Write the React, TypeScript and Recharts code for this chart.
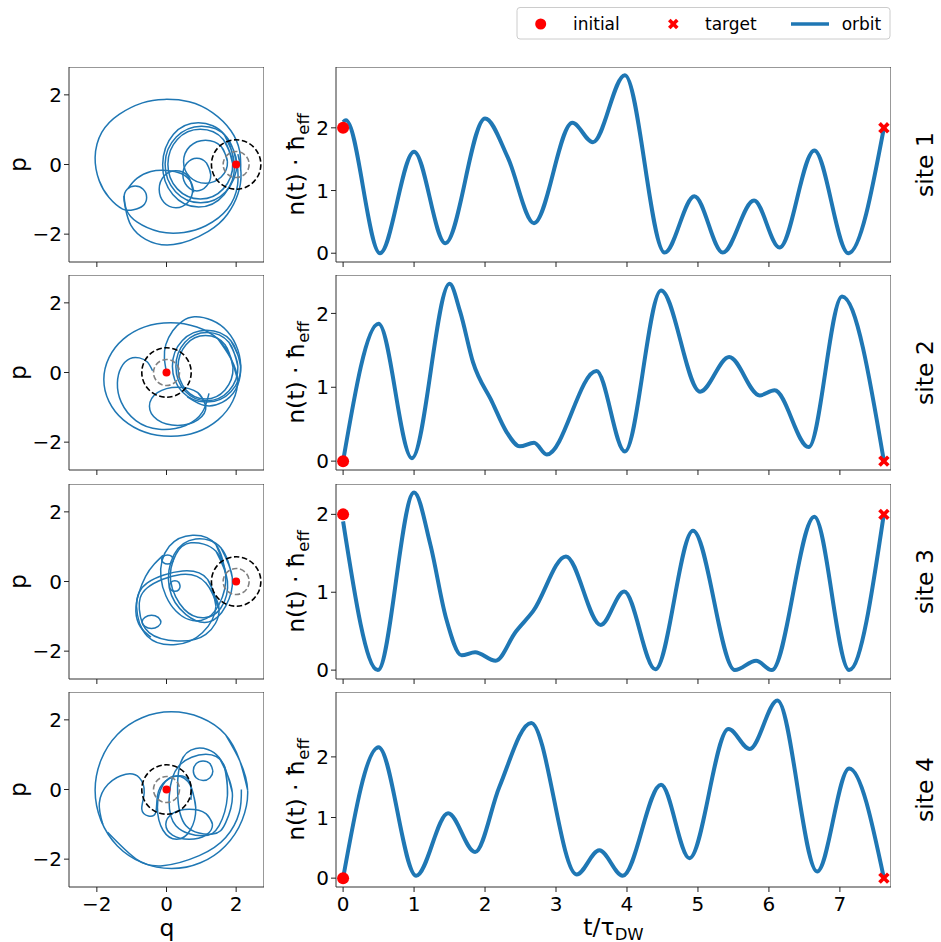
import React from 'react';
import { LineChart, Line, XAxis, YAxis, ReferenceDot, ReferenceArea } from 'recharts';

const BLUE = '#1f77b4';
const RED = '#ff0000';
const FONT = '"DejaVu Sans", Verdana, sans-serif';

const SITES = ['site 1', 'site 2', 'site 3', 'site 4'];
const ROW_TOPS = [67, 275, 484, 692];
const START_Q = [2, 0, 2, 0];
const INITIAL_N = [2, 0, 2, 0];
const TARGET_N = [2, 0, 2, 0];
const T_END = 7.62;
const T_TICKS = [0, 1, 2, 3, 4, 5, 6, 7];
const QP_TICKS = [-2, 0, 2];
const N_TICKS = [0, 1, 2];
const N_DOMAINS = [[-0.14, 2.97], [-0.12, 2.52], [-0.114, 2.39], [-0.146, 3.07]];

// n(t)*hbar, [t, n]
const site1N = [
    [0, 2.09], [0.04, 2.12], [0.52, 0], [1.0, 1.62], [1.44, 0.16], [2.0, 2.15], [2.32, 1.53],
    [2.69, 0.48], [3.23, 2.08], [3.52, 1.77], [3.97, 2.84], [4.53, 0.01], [4.95, 0.91],
    [5.35, 0.01], [5.79, 0.84], [6.15, 0.09], [6.64, 1.64], [7.12, 0], [7.62, 2.0],
];
const site2N = [
    [0, 0], [0.5, 1.86], [0.97, 0.04], [1.5, 2.4], [1.65, 2.02], [1.83, 1.34], [2.1, 0.8],
    [2.3, 0.4], [2.49, 0.2], [2.69, 0.25], [2.87, 0.09], [3.57, 1.22], [3.97, 0.13],
    [4.48, 2.31], [5.03, 0.94], [5.44, 1.41], [5.87, 0.89], [6.08, 0.96], [6.56, 0.19],
    [7.03, 2.23], [7.62, 0],
];
const site3N = [
    [0, 1.91], [0.49, 0], [1.0, 2.28], [1.23, 1.61], [1.45, 0.67], [1.67, 0.19], [1.86, 0.23],
    [2.15, 0.12], [2.43, 0.49], [2.68, 0.76], [3.14, 1.46], [3.63, 0.58], [3.96, 1.01],
    [4.4, 0.01], [4.93, 1.79], [5.52, 0], [5.82, 0.12], [6.04, 0], [6.64, 1.97], [7.13, 0],
    [7.62, 2.01],
];
const site4N = [
    [0, 0], [0.5, 2.16], [1.03, 0.04], [1.48, 1.07], [1.86, 0.43], [2.2, 1.5], [2.65, 2.56],
    [3.29, 0.06], [3.61, 0.46], [3.94, 0.04], [4.48, 1.54], [4.88, 0.33], [5.43, 2.46],
    [5.73, 2.13], [6.12, 2.93], [6.68, 0.11], [7.13, 1.81], [7.62, 0],
];

// phase space orbits, [q, p]: closed loops and open arcs
const site1Loops = [
    [[1.95, 0], [1.66, 0.86], [0.92, 1.2], [0.2, 0.87], [-0.11, 0], [0.18, -0.86], [0.92, -1.22], [1.66, -0.86]],
    [[2.02, 0.02], [1.72, 0.8], [1.0, 1.1], [0.28, 0.79], [-0.04, 0.02], [0.26, -0.78], [0.98, -1.1], [1.7, -0.78]],
    [[1.9, 0.02], [1.63, 0.72], [0.97, 1.01], [0.31, 0.72], [0.04, 0.01], [0.31, -0.7], [0.97, -0.99], [1.63, -0.7]],
    [[1.75, 0.08], [1.57, 0.52], [1.12, 0.7], [0.67, 0.52], [0.49, 0.08], [0.67, -0.36], [1.12, -0.54], [1.57, -0.36]],
    [[1.27, -0.29], [1.15, 0.04], [0.87, 0.18], [0.59, 0.04], [0.47, -0.29], [0.59, -0.62], [0.87, -0.76], [1.15, -0.62]],
    [[0.75, -0.71], [0.61, -0.33], [0.27, -0.18], [-0.07, -0.33], [-0.21, -0.71], [-0.07, -1.09], [0.27, -1.24], [0.61, -1.09]],
];
const site1Arcs = [
    [[2.13, -0.18], [2.1, 0.39], [1.85, 0.97], [1.32, 1.49], [0.65, 1.8], [-0.07, 1.87], [-0.69, 1.77],
     [-1.36, 1.44], [-1.86, 0.92], [-2.05, 0.2], [-1.93, -0.47], [-1.65, -0.95], [-1.26, -1.28],
     [-0.95, -1.3], [-0.68, -1.19], [-0.57, -0.95], [-0.67, -0.71], [-0.9, -0.62], [-1.13, -0.71],
     [-1.22, -0.95], [-1.17, -1.3], [-1.02, -1.75], [-0.6, -2.15], [0.2, -2.3], [1.2, -1.92],
     [1.75, -1.43], [2.05, -0.85], [2.14, -0.25], [2.05, 0.3]],
    [[-1.22, -0.9], [-1.15, -1.3], [-0.85, -1.65], [-0.2, -1.93], [0.5, -1.95], [1.13, -1.76],
     [1.75, -1.28], [2.04, -0.6], [2.03, 0.05]],
    [[-1.1, -0.68], [-0.85, -0.4], [-0.45, -0.2], [0.0, -0.17], [0.42, -0.26], [0.7, -0.5], [0.78, -0.8]],
];

const site2Loops = [
    [[2.04, -0.2], [1.48, 0.96], [0.12, 1.43], [-1.24, 0.96], [-1.8, -0.2], [-1.24, -1.36], [0.12, -1.83], [1.48, -1.36]],
    [[2.13, 0.18], [1.85, 0.91], [1.15, 1.21], [0.45, 0.91], [0.17, 0.18], [0.45, -0.55], [1.15, -0.85], [1.85, -0.55]],
    [[2.05, 0.17], [1.79, 0.87], [1.16, 1.15], [0.53, 0.87], [0.27, 0.17], [0.53, -0.53], [1.16, -0.81], [1.79, -0.53]],
    [[1.91, 0.15], [1.68, 0.8], [1.12, 1.06], [0.56, 0.8], [0.33, 0.15], [0.56, -0.5], [1.12, -0.76], [1.68, -0.5]],
    [[1.13, -0.97], [0.9, -0.58], [0.32, -0.42], [-0.26, -0.58], [-0.49, -0.97], [-0.26, -1.36], [0.32, -1.52], [0.9, -1.36]],
];
const site2Arcs = [
    [[0, 0], [-0.06, 0.4], [-0.02, 0.8], [0.18, 1.2], [0.45, 1.47], [0.8, 1.6], [1.3, 1.5], [1.75, 1.18],
     [2.05, 0.65], [2.13, 0.05], [1.98, -0.5], [1.6, -0.86], [1.1, -0.95], [0.6, -0.7]],
    [[-0.4, 0.05], [-0.55, 0.3], [-0.78, 0.42], [-1.05, 0.4], [-1.3, 0.15], [-1.41, -0.3], [-1.3, -0.85],
     [-0.88, -1.38], [-0.21, -1.63], [0.55, -1.52], [1.03, -1.14], [1.22, -0.6]],
];

const site3Loops = [
    [[1.7, 0.2], [1.42, 1.06], [0.75, 1.33], [0.08, 1.01], [-0.16, 0.11], [0.27, -0.85], [0.99, -1.12], [1.51, -0.66]],
    [[1.89, 0.11], [1.56, 0.97], [0.84, 1.22], [0.22, 0.78], [0.08, -0.18], [0.56, -0.95], [1.22, -1.16], [1.7, -0.71]],
    [[1.75, 0.01], [1.42, 0.87], [0.7, 1.11], [0.27, 0.78], [0.12, 0.01], [0.51, -0.8], [1.08, -1.04], [1.56, -0.76]],
    [[1.42, -0.71], [1.18, 0.06], [0.46, 0.3], [-0.55, -0.04], [-0.86, -0.71], [-0.55, -1.57], [0.27, -1.81], [1.03, -1.47]],
    [[1.51, -0.8], [1.13, -0.04], [0.41, 0.2], [-0.55, -0.18], [-0.78, -0.8], [-0.5, -1.47], [0.32, -1.71], [1.13, -1.52]],
    [[0.2, 0.63], [0.15, 0.72], [0.03, 0.76], [-0.09, 0.72], [-0.14, 0.63], [-0.09, 0.54], [0.03, 0.5], [0.15, 0.54]],
    [[0.39, -0.13], [0.35, -0.02], [0.24, 0.02], [0.13, -0.02], [0.09, -0.13], [0.13, -0.24], [0.24, -0.28], [0.35, -0.24]],
    [[-0.16, -1.16], [-0.24, -1.03], [-0.43, -0.97], [-0.62, -1.03], [-0.7, -1.16], [-0.62, -1.29], [-0.43, -1.35], [-0.24, -1.29]],
];
const site3Arcs = [
    [[-0.1, 0.75], [-0.35, 0.5], [-0.6, 0.15], [-0.8, -0.35], [-0.88, -0.85], [-0.75, -1.3], [-0.45, -1.6]],
];

const site4Loops = [
    [[2.33, -0.02], [1.69, 1.58], [0.14, 2.23], [-1.41, 1.58], [-2.05, -0.02], [-1.41, -1.62], [0.14, -2.27], [1.69, -1.62]],
    [[1.89, -0.09], [1.51, 0.92], [0.84, 1.18], [0.41, 0.78], [0.32, -0.09], [0.56, -1.04], [1.32, -1.28], [1.7, -0.95]],
    [[1.75, -0.18], [1.66, 0.68], [1.13, 1.01], [0.36, 0.68], [0.08, -0.18], [0.27, -1.04], [1.03, -1.33], [1.51, -1.04]],
    [[1.33, 0.54], [1.25, 0.74], [1.05, 0.82], [0.85, 0.74], [0.77, 0.54], [0.85, 0.34], [1.05, 0.26], [1.25, 0.34]],
    [[1.32, -1.0], [1.13, -0.69], [0.65, -0.57], [0.17, -0.69], [-0.02, -1.0], [0.17, -1.31], [0.65, -1.43], [1.13, -1.31]],
    [[0.84, -0.52], [0.68, 0.13], [0.29, 0.39], [-0.1, 0.13], [-0.26, -0.52], [-0.1, -1.17], [0.29, -1.43], [0.68, -1.17]],
];
const site4Arcs = [
    [[-1.69, -1.23], [-0.88, -1.99], [-0.11, -2.19], [0.94, -1.9], [1.7, -1.38], [2.09, -0.66], [2.15, 0.0]],
    [[-1.83, -1.0], [-1.93, -0.4], [-1.68, 0.15], [-1.17, 0.44], [-0.78, 0.34], [-0.64, -0.09], [-0.71, -0.56],
     [-0.52, -0.76], [-0.31, -0.66], [-0.26, -0.18], [-0.02, 0.25], [0.46, 0.39], [0.7, 0.11], [0.7, -0.3]],
];

const N_SERIES = [site1N, site2N, site3N, site4N];
const LOOPS = [site1Loops, site2Loops, site3Loops, site4Loops];
const ARCS = [site1Arcs, site2Arcs, site3Arcs, site4Arcs];

const QP_DOMAIN = [-2.8, 2.8];
const T_DOMAIN = [-0.1, 7.72];

const PW = 195, PH = 195, TW = 555, YW_L = 50, YW_R = 40, XH = 34;

const toQP = (pts: number[][]) => pts.map(([q, p]) => ({ q, p }));
const toTN = (pts: number[][]) => pts.map(([t, n]) => ({ t, n }));
const closeLoop = (pts: number[][]) => [...pts, pts[0], pts[1]];
const minus = (v: number) => String(v).replace('-', '\u2212');
const tickStyle = { fill: '#000', fontSize: 20, fontFamily: FONT };
const LABEL = 23.5;

const XMark = ({ cx, cy, s = 4.4, w = 3.7 }: any) => (
    <g>
        <line x1={cx - s} y1={cy - s} x2={cx + s} y2={cy + s} stroke={RED} strokeWidth={w} />
        <line x1={cx - s} y1={cy + s} x2={cx + s} y2={cy - s} stroke={RED} strokeWidth={w} />
    </g>
);

function PhasePanel({ row }: { row: number }) {
    const paths = [...LOOPS[row].map(closeLoop), ...ARCS[row]];
    const last = row === 3;
    return (
        <div style={{ position: 'absolute', left: 69 - YW_L, top: ROW_TOPS[row] }}>
            <LineChart width={YW_L + PW} height={PH + XH} margin={{ top: 0, right: 0, bottom: 0, left: 0 }}>
                <XAxis type="number" dataKey="q" domain={QP_DOMAIN} ticks={QP_TICKS} interval={0}
                    allowDataOverflow height={XH} axisLine={false} tickLine={{ stroke: '#222' }} tickSize={5}
                    tickMargin={5} tick={tickStyle} tickFormatter={last ? minus : () => ''} />
                <YAxis type="number" dataKey="p" domain={QP_DOMAIN} ticks={QP_TICKS} interval={0}
                    allowDataOverflow width={YW_L} axisLine={false} tickLine={{ stroke: '#222' }} tickSize={5}
                    tick={tickStyle} tickFormatter={minus} />
                {paths.map((pts, i) => (
                    <Line key={i} data={toQP(pts)} dataKey="p" type="natural" stroke={BLUE} strokeWidth={1.5}
                        dot={false} activeDot={false} isAnimationActive={false} />
                ))}
                <ReferenceArea x1={QP_DOMAIN[0]} x2={QP_DOMAIN[1]} y1={QP_DOMAIN[0]} y2={QP_DOMAIN[1]}
                    fill="none" stroke="#333" strokeWidth={1} />
                <ReferenceDot x={START_Q[row]} y={0} r={24.7} fill="none" stroke="#000" strokeWidth={1.6}
                    strokeDasharray="5.5 2.6" />
                <ReferenceDot x={START_Q[row]} y={0} r={13} fill="none" stroke="#808080" strokeWidth={1.6}
                    strokeDasharray="5.5 2.6" />
                <ReferenceDot x={START_Q[row]} y={0} r={4} fill={RED} stroke="none" />
            </LineChart>
        </div>
    );
}

function TimePanel({ row }: { row: number }) {
    const last = row === 3;
    const dom = N_DOMAINS[row];
    return (
        <div style={{ position: 'absolute', left: 336 - YW_R, top: ROW_TOPS[row] }}>
            <LineChart width={YW_R + TW} height={PH + XH} margin={{ top: 0, right: 0, bottom: 0, left: 0 }}>
                <XAxis type="number" dataKey="t" domain={T_DOMAIN} ticks={T_TICKS} interval={0}
                    allowDataOverflow height={XH} axisLine={false} tickLine={{ stroke: '#222' }} tickSize={5}
                    tickMargin={5} tick={tickStyle} tickFormatter={last ? minus : () => ''} />
                <YAxis type="number" domain={dom} ticks={N_TICKS} interval={0} allowDataOverflow
                    width={YW_R} axisLine={false} tickLine={{ stroke: '#222' }} tickSize={5} tick={tickStyle} />
                <Line data={toTN(N_SERIES[row])} dataKey="n" type="monotone" stroke={BLUE} strokeWidth={4}
                    dot={false} activeDot={false} isAnimationActive={false} />
                <ReferenceArea x1={T_DOMAIN[0]} x2={T_DOMAIN[1]} y1={dom[0]} y2={dom[1]}
                    fill="none" stroke="#333" strokeWidth={1} />
                <ReferenceDot x={0} y={INITIAL_N[row]} r={6} fill={RED} stroke="none" />
                <ReferenceDot x={T_END} y={TARGET_N[row]} r={6}
                    shape={(props: any) => <XMark cx={props.cx} cy={props.cy} />} />
            </LineChart>
        </div>
    );
}

export default function App() {
    const centers = ROW_TOPS.map((t) => t + PH / 2);
    return (
        <div style={{ position: 'absolute', left: 0, top: 0, width: 941, height: 942, background: '#fff', fontFamily: FONT }}>
            {ROW_TOPS.map((_, r) => <PhasePanel key={'p' + r} row={r} />)}
            {ROW_TOPS.map((_, r) => <TimePanel key={'t' + r} row={r} />)}
            <svg width={941} height={942} style={{ position: 'absolute', left: 0, top: 0, pointerEvents: 'none' }}
                fontFamily={FONT}>
                {centers.map((cy, r) => (
                    <g key={r}>
                        <text transform={`translate(26, ${cy}) rotate(-90)`} textAnchor="middle" fontSize={LABEL}>p</text>
                        <text transform={`translate(304, ${cy}) rotate(-90)`} textAnchor="middle" fontSize={LABEL}>
                            n(t) · ħ<tspan fontSize={16.5} dy={5}>eff</tspan>
                        </text>
                        <text transform={`translate(933, ${cy}) rotate(-90)`} textAnchor="middle" fontSize={LABEL}>
                            {SITES[r]}
                        </text>
                    </g>
                ))}
                <text x={167} y={936} textAnchor="middle" fontSize={LABEL}>q</text>
                <text x={613.5} y={935} textAnchor="middle" fontSize={LABEL}>
                    t/τ<tspan fontSize={16.5} dy={4.5}>DW</tspan>
                </text>
                {/* legend */}
                <rect x={517} y={7.5} width={373} height={31.5} rx={3} fill="#fff" stroke="#cccccc" strokeWidth={1} />
                <circle cx={540.7} cy={24} r={5.5} fill={RED} />
                <text x={573} y={29.8} fontSize={17}>initial</text>
                <XMark cx={673.3} cy={24} s={4} w={3.6} />
                <text x={705} y={29.8} fontSize={17}>target</text>
                <line x1={791} y1={24} x2={829} y2={24} stroke={BLUE} strokeWidth={3.5} />
                <text x={841.7} y={29.8} fontSize={17}>orbit</text>
            </svg>
        </div>
    );
}
